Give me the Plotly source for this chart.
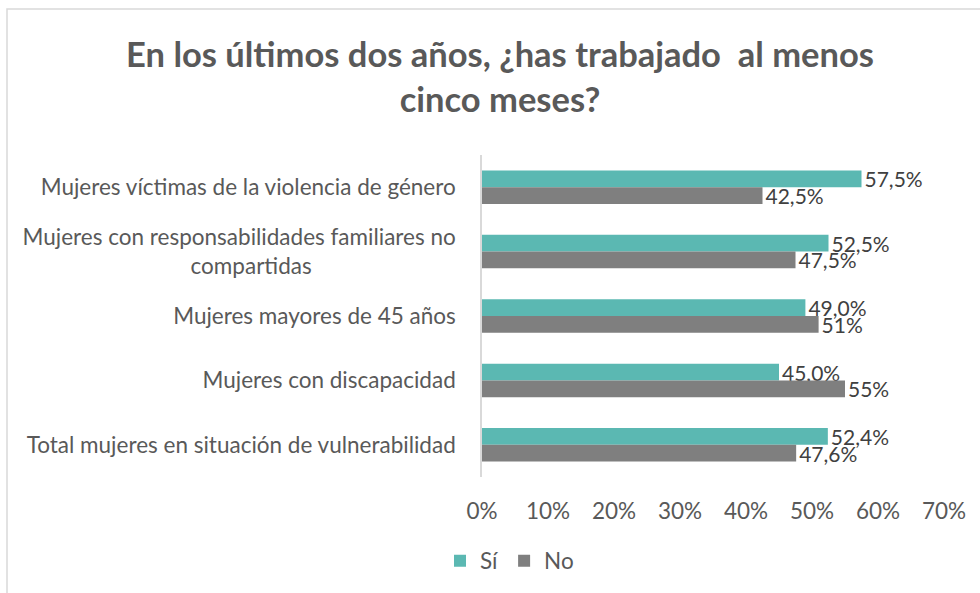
import plotly.graph_objects as go

NB = "\u00a0"
categories = [
    "Mujeres víctimas de la violencia de género",
    "Mujeres con responsabilidades familiares no<br>compartidas" + NB * 25,
    "Mujeres mayores de 45 años",
    "Mujeres con discapacidad",
    "Total mujeres en situación de vulnerabilidad",
]
si_values = [57.5, 52.5, 49.0, 45.0, 52.4]
no_values = [42.5, 47.5, 51.0, 55.0, 47.6]
si_labels = ["57,5%", "52,5%", "49,0%", "45,0%", "52,4%"]
no_labels = ["42,5%", "47,5%", "51%", "55%", "47,6%"]
x_tickvals = [0, 10, 20, 30, 40, 50, 60, 70]
x_ticktext = ["0%", "10%", "20%", "30%", "40%", "50%", "60%", "70%"]

FONT = "Lato"
W, H = 980, 593
L, R, T, B = 482, 36, 155, 116
pw, ph = W - L - R, H - T - B
FS = 21
TS = 22.5

fig = go.Figure()
fig.add_trace(go.Bar(
    name="Sí", y=categories, x=si_values, orientation="h",
    marker=dict(color="#5BB8B2", line=dict(width=0)), text=si_labels, textposition="outside",
    textfont=dict(color="#404040", size=FS, family=FONT), cliponaxis=False,
    constraintext="none",
))
fig.add_trace(go.Bar(
    name="No", y=categories, x=no_values, orientation="h",
    marker=dict(color="#7F7F7F", line=dict(width=0)), text=no_labels, textposition="outside",
    textfont=dict(color="#404040", size=FS, family=FONT), cliponaxis=False,
    constraintext="none",
))

fig.update_layout(
    width=W, height=H,
    margin=dict(l=L, r=R, t=T, b=B, autoexpand=False),
    paper_bgcolor="white", plot_bgcolor="white",
    barmode="group", bargap=0.48, bargroupgap=0,
    font=dict(family=FONT, color="#595959", size=FS),
    title=dict(
        text="<b>En los últimos dos años, ¿has trabajado  al menos<br>cinco meses?</b>",
        x=500 / W, xanchor="center", xref="container",
        y=1 - 67 / H, yanchor="top", yref="container",
        font=dict(size=34.5, color="#595959", family=FONT),
    ),
    xaxis=dict(
        range=[0, 70], tickvals=x_tickvals, ticktext=x_ticktext,
        showgrid=False, zeroline=False, showline=False, ticks="",
        tickfont=dict(size=TS, color="#595959"), ticklabelstandoff=18,
        automargin=False,
    ),
    yaxis=dict(
        autorange="reversed", showgrid=False, zeroline=False,
        showline=True, linecolor="#D9D9D9", linewidth=1.5, ticks="",
        tickfont=dict(size=TS, color="#595959"), ticklabelstandoff=20,
        automargin=False,
    ),
    legend=dict(
        orientation="h", x=(440 - L) / pw, xanchor="left",
        y=-(561 - (T + ph)) / ph, yanchor="middle",
        font=dict(size=TS, color="#595959"), traceorder="normal",
        itemwidth=30, tracegroupgap=0,
    ),
    showlegend=True,
)

# chart border
fig.add_shape(
    type="rect", xref="paper", yref="paper",
    x0=(7 - L) / pw, x1=(W + 5 - L) / pw,
    y0=-(H + 5 - T - ph) / ph, y1=1 + (T - 9) / ph,
    line=dict(color="#D9D9D9", width=1.5), fillcolor="rgba(0,0,0,0)", layer="below",
)

fig.write_html(
    "out.html",
    config={"displayModeBar": False},
    post_script="document.body.style.margin='0';document.body.style.overflow='hidden';",
)
